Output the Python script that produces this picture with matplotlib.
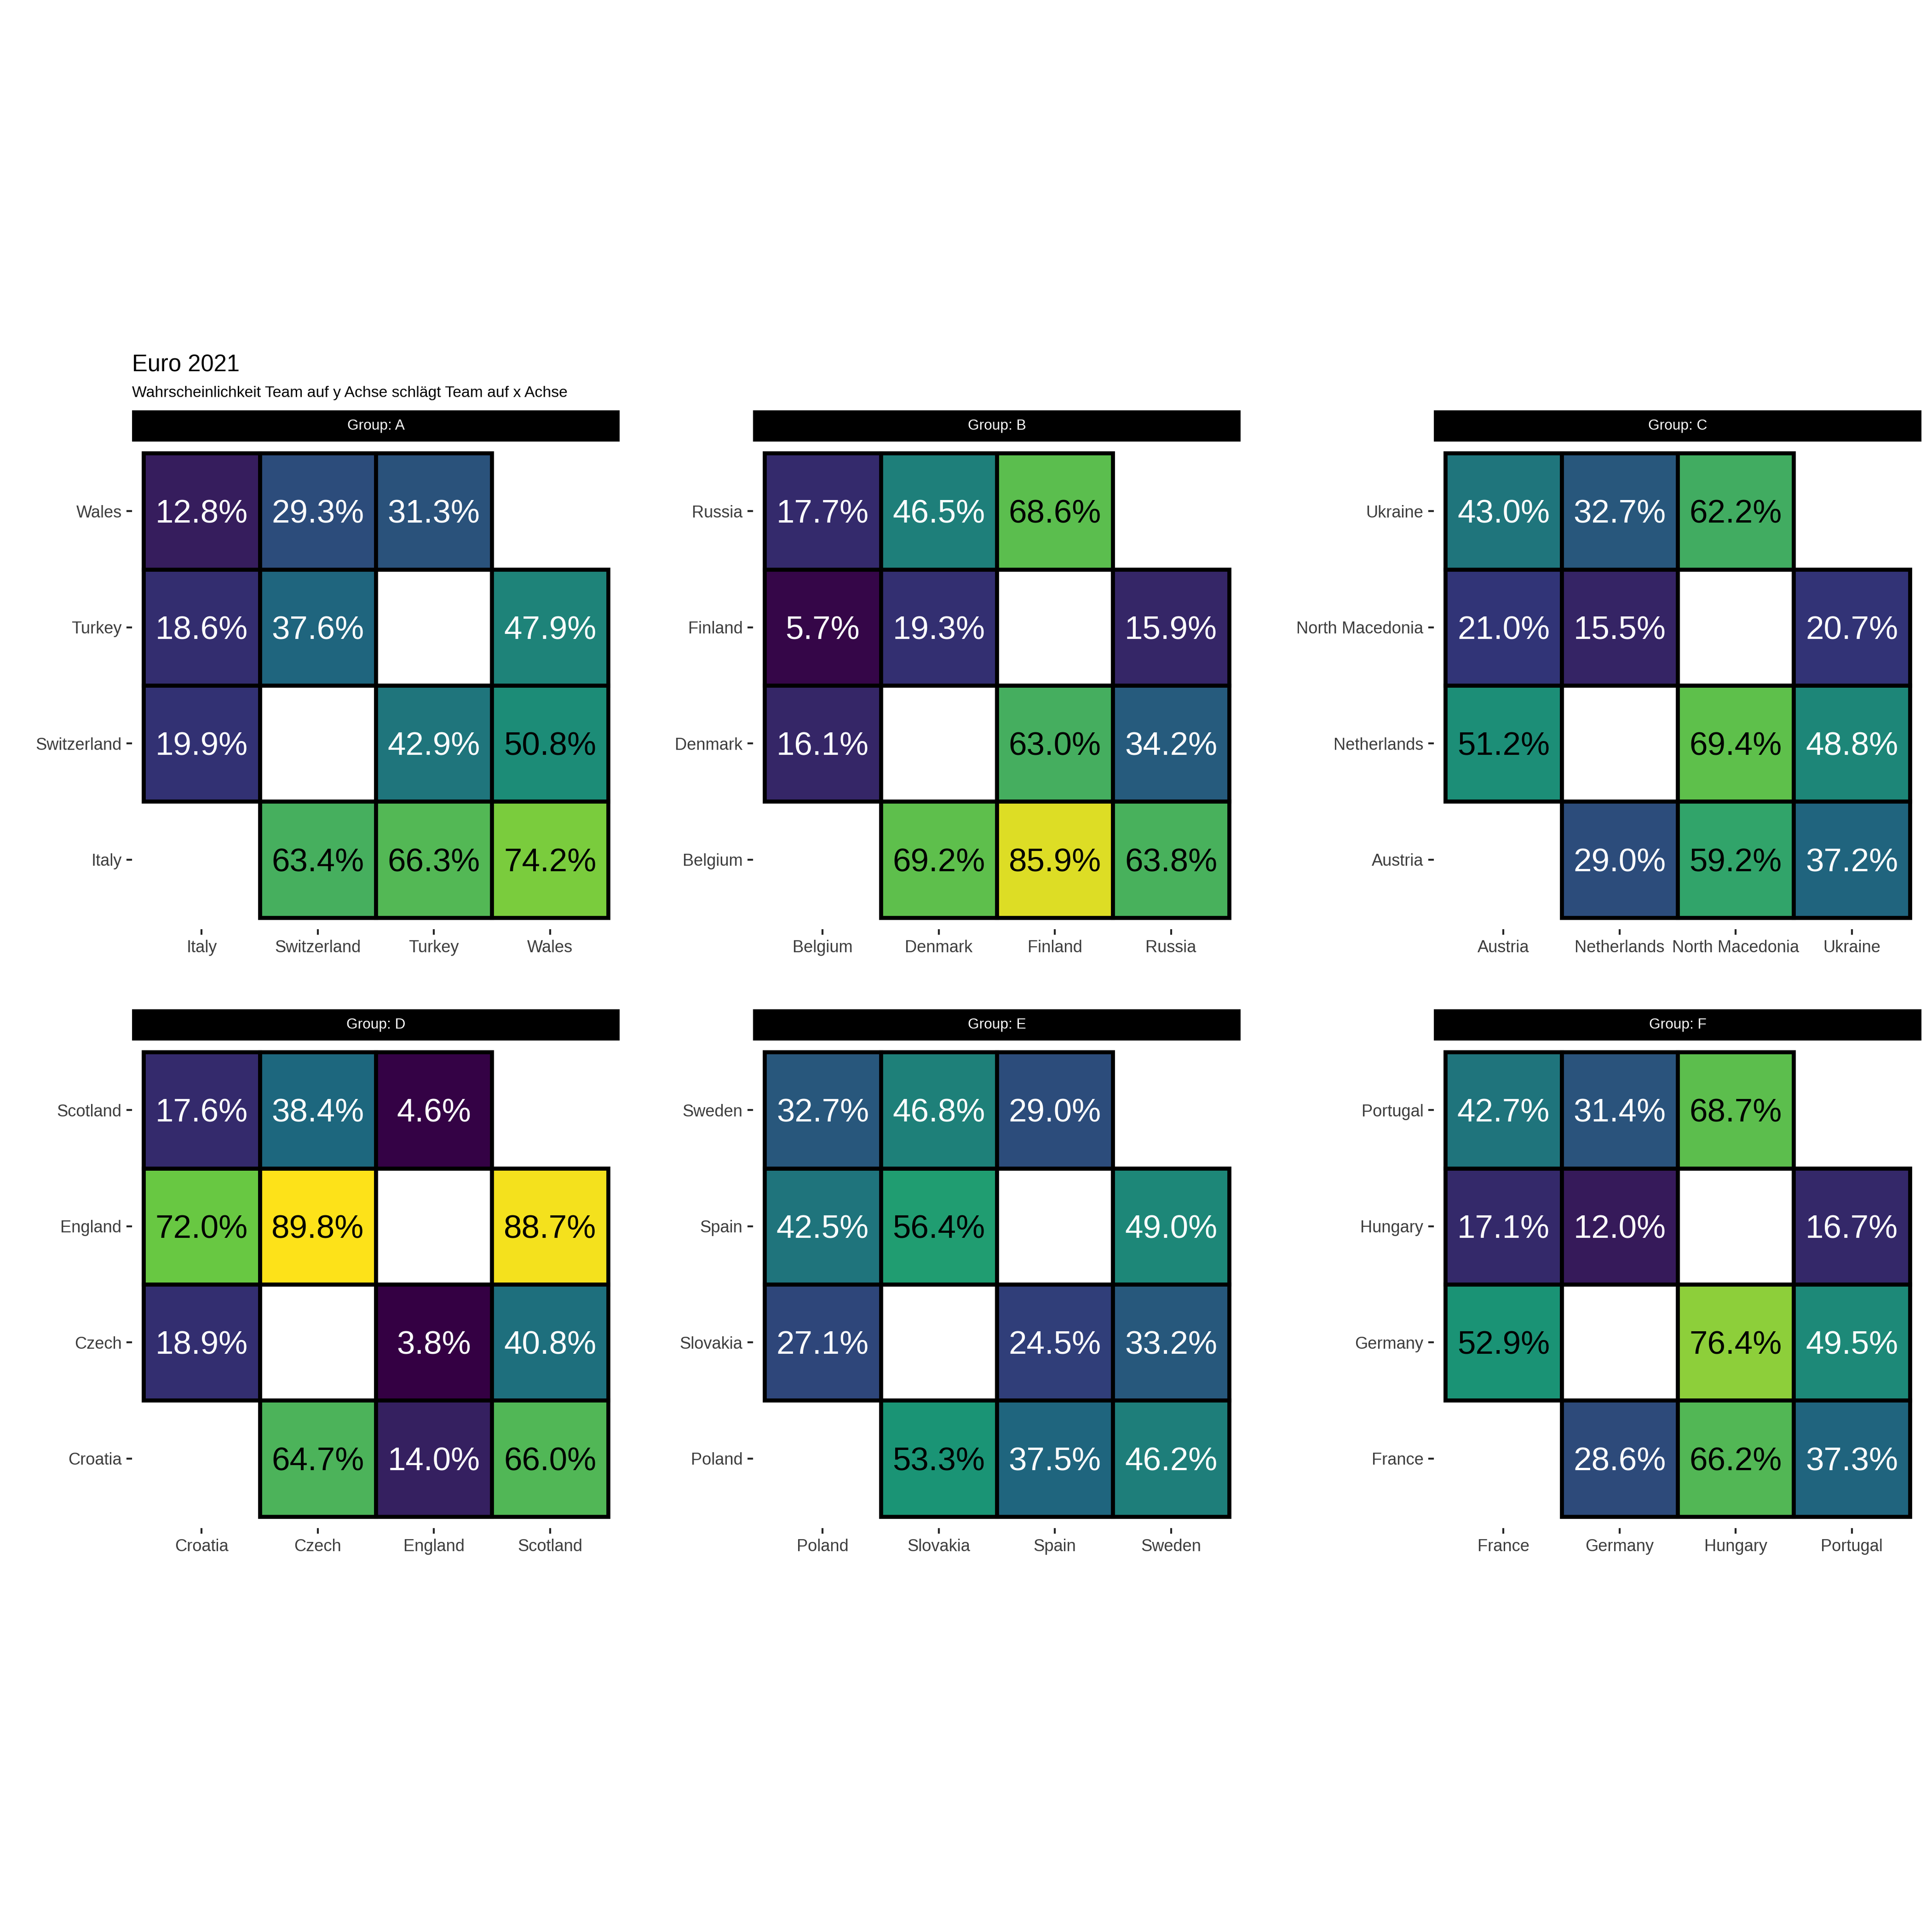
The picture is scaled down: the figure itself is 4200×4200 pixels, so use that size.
import matplotlib
matplotlib.use("Agg")
import matplotlib.pyplot as plt
from matplotlib.patches import Rectangle
from matplotlib import colors
import numpy as np

plt.rcParams['font.family'] = ['Liberation Sans', 'DejaVu Sans']

title = "Euro 2021"
subtitle = "Wahrscheinlichkeit Team auf y Achse schlägt Team auf x Achse"

group_names = ["Group: A", "Group: B", "Group: C", "Group: D", "Group: E", "Group: F"]

teams_A = ["Italy", "Switzerland", "Turkey", "Wales"]
teams_B = ["Belgium", "Denmark", "Finland", "Russia"]
teams_C = ["Austria", "Netherlands", "North Macedonia", "Ukraine"]
teams_D = ["Croatia", "Czech", "England", "Scotland"]
teams_E = ["Poland", "Slovakia", "Spain", "Sweden"]
teams_F = ["France", "Germany", "Hungary", "Portugal"]

N = None          # no tile
B = float('nan')  # blank white tile

# rows: y team (bottom -> top, same order as teams), columns: x team
probs_A = [[N, 63.4, 66.3, 74.2],
           [19.9, B, 42.9, 50.8],
           [18.6, 37.6, B, 47.9],
           [12.8, 29.3, 31.3, N]]
probs_B = [[N, 69.2, 85.9, 63.8],
           [16.1, B, 63.0, 34.2],
           [5.7, 19.3, B, 15.9],
           [17.7, 46.5, 68.6, N]]
probs_C = [[N, 29.0, 59.2, 37.2],
           [51.2, B, 69.4, 48.8],
           [21.0, 15.5, B, 20.7],
           [43.0, 32.7, 62.2, N]]
probs_D = [[N, 64.7, 14.0, 66.0],
           [18.9, B, 3.8, 40.8],
           [72.0, 89.8, B, 88.7],
           [17.6, 38.4, 4.6, N]]
probs_E = [[N, 53.3, 37.5, 46.2],
           [27.1, B, 24.5, 33.2],
           [42.5, 56.4, B, 49.0],
           [32.7, 46.8, 29.0, N]]
probs_F = [[N, 28.6, 66.2, 37.3],
           [52.9, B, 76.4, 49.5],
           [17.1, 12.0, B, 16.7],
           [42.7, 31.4, 68.7, N]]

all_teams = [teams_A, teams_B, teams_C, teams_D, teams_E, teams_F]
all_probs = [probs_A, probs_B, probs_C, probs_D, probs_E, probs_F]

vals = [v for p in all_probs for row in p for v in row if v is not None and not np.isnan(v)]
norm = colors.Normalize(vmin=min(vals), vmax=max(vals))

# ---- viridis palette built like ggplot's scale_fill_viridis_c:
# 6 anchor colours, interpolated in CIE Lab space
anchors = ["#440154", "#414487", "#2A788E", "#22A884", "#7AD151", "#FDE725"]

_M = np.array([[0.4124564, 0.3575761, 0.1804375],
               [0.2126729, 0.7151522, 0.0721750],
               [0.0193339, 0.1191920, 0.9503041]])
_Minv = np.linalg.inv(_M)
_white = np.array([0.95047, 1.0, 1.08883])

def srgb_to_lab(rgb):
    rgb = np.asarray(rgb, float)
    lin = np.where(rgb <= 0.04045, rgb / 12.92, ((rgb + 0.055) / 1.055) ** 2.4)
    xyz = lin @ _M.T / _white
    d = 6 / 29
    f = np.where(xyz > d ** 3, np.cbrt(xyz), xyz / (3 * d * d) + 4 / 29)
    L = 116 * f[..., 1] - 16
    a = 500 * (f[..., 0] - f[..., 1])
    b = 200 * (f[..., 1] - f[..., 2])
    return np.stack([L, a, b], axis=-1)

def lab_to_srgb(lab):
    lab = np.asarray(lab, float)
    fy_ = (lab[..., 0] + 16) / 116
    fx_ = fy_ + lab[..., 1] / 500
    fz_ = fy_ - lab[..., 2] / 200
    d = 6 / 29
    f = np.stack([fx_, fy_, fz_], axis=-1)
    xyz = np.where(f > d, f ** 3, 3 * d * d * (f - 4 / 29)) * _white
    lin = xyz @ _Minv.T
    lin = np.clip(lin, 0, 1)
    rgb = np.where(lin <= 0.0031308, 12.92 * lin, 1.055 * lin ** (1 / 2.4) - 0.055)
    return np.clip(rgb, 0, 1)

_anchor_lab = srgb_to_lab([colors.to_rgb(c) for c in anchors])
_pos = np.linspace(0, 1, len(anchors))
_t = np.linspace(0, 1, 512)
_lab = np.stack([np.interp(_t, _pos, _anchor_lab[:, k]) for k in range(3)], axis=-1)
_rgb = lab_to_srgb(_lab) ** 1.2   # slight gamma to match the reference's rendered tones
cmap = colors.ListedColormap(_rgb)

W = H = 4200
fig = plt.figure(figsize=(14, 14), dpi=300)
fig.patch.set_facecolor('white')

def fx(px):
    return px / W

def fy(py):
    return 1 - py / H

col_left = [287, 1637, 3117]
row_top = [960, 2262]
panel = 1060
strip_h = 68

fig.text(fx(287), fy(807), title, fontsize=12.2, color='black', va='baseline', ha='left')
fig.text(fx(287), fy(863), subtitle, fontsize=8.1, color='black', va='baseline', ha='left')

lw = 2.1
for k in range(6):
    r, c = divmod(k, 3)
    left = col_left[c]
    top = row_top[r]
    ax = fig.add_axes([fx(left), fy(top + panel), panel / W, panel / H])
    teams = all_teams[k]
    probs = all_probs[k]
    for i, row in enumerate(probs):
        for j, v in enumerate(row):
            if v is None:
                continue
            if np.isnan(v):
                fc = 'white'
            else:
                fc = cmap(norm(v))
            ax.add_patch(Rectangle((j + 0.5, i + 0.5), 1, 1, facecolor=fc,
                                   edgecolor='black', linewidth=lw, joinstyle='miter'))
            if not np.isnan(v):
                tc = 'black' if v > 50 else 'white'
                ax.text(j + 1, i + 1, f"{v:.1f}%", ha='center', va='center_baseline',
                        fontsize=17, color=tc)
    ax.set_xlim(0.4, 4.6)
    ax.set_ylim(0.4, 4.6)
    ax.set_xticks(range(1, 5))
    ax.set_xticklabels(teams)
    ax.set_yticks(range(1, 5))
    ax.set_yticklabels(teams)
    for s in ax.spines.values():
        s.set_visible(False)
    ax.tick_params(axis='both', length=2.8, width=1.0, color='#252525',
                   labelsize=8.7, labelcolor='#3D3D3D', pad=2.6)
    ax.set_facecolor('white')
    # strip
    sax = fig.add_axes([fx(left), fy(top), panel / W, strip_h / H])
    sax.set_facecolor('black')
    sax.set_xticks([])
    sax.set_yticks([])
    for s in sax.spines.values():
        s.set_visible(False)
    sax.text(0.5, 0.5, group_names[k], color='white', fontsize=7.6,
             ha='center', va='center', transform=sax.transAxes)

fig.savefig('out.png', dpi=300, facecolor='white')
